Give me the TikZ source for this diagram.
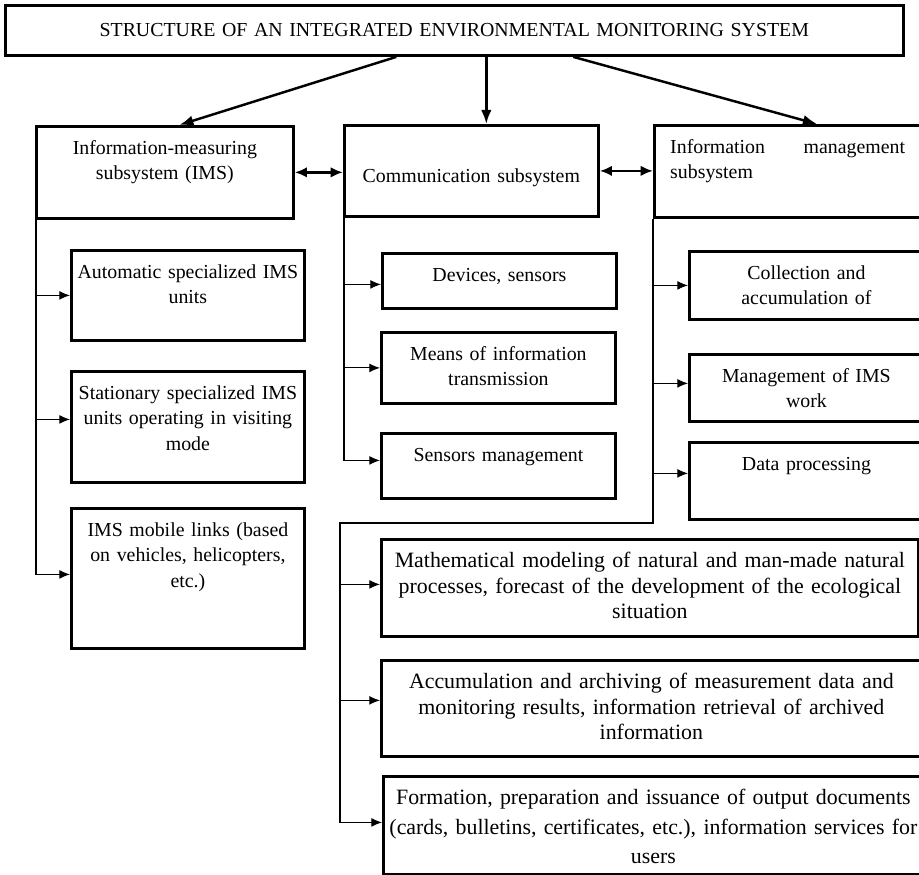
\documentclass[tikz,border=0pt]{standalone}
\usepackage{fontspec}
\setmainfont{Liberation Serif}
\usetikzlibrary{arrows.meta,positioning}
\begin{document}
\begin{tikzpicture}[
    x=0.02cm, y=-0.02cm,
    box/.style={rectangle, draw, line width=1.6pt, anchor=north west, inner sep=5pt, align=center, font=\fontsize{11.3}{14.5}\selectfont},
    tbox/.style 2 args={box, inner xsep=0pt, text width=#1, text height=11pt, text depth=#2},
    bigtext/.style={font=\fontsize{12.45}{14.5}\selectfont},
    arr/.style={-{Latex[length=8pt,width=6pt]}, line width=1.4pt},
    darr/.style={{Latex[length=7pt,width=6pt]}-{Latex[length=7pt,width=6pt]}, line width=1.4pt},
    branch/.style={-{Latex[length=6pt,width=5pt]}, line width=0.6pt}
]
\useasboundingbox (0,0) rectangle (919,875);
\clip (0,0) rectangle (919,875);

% top level
\node[box, text width=501pt, minimum height=28.5pt] (title) at (4,4) {STRUCTURE OF AN INTEGRATED ENVIRONMENTAL MONITORING SYSTEM};

% subsystems
\node[tbox={146.2pt}{31.3pt}] (ims) at (35,125) {Information-measuring\\subsystem (IMS)};
\node[tbox={144.5pt}{14.4pt}, text height=27.4pt] (comm) at (343,124) {Communication subsystem};
\node[tbox={139.6pt}{31.3pt}, inner xsep=9pt, align=left] (info) at (653,124) {Information\hspace{22pt}management\\subsystem};

% IMS units
\node[tbox={132.6pt}{30.2pt}] (auto) at (70,249) {Automatic specialized IMS\\units};
\node[tbox={132.6pt}{42.2pt}] (stat) at (70,370) {Stationary specialized IMS\\units operating in visiting\\mode};
\node[tbox={132.6pt}{58.7pt}] (mob) at (70,507) {IMS mobile links (based\\on vehicles, helicopters,\\etc.)};

% communication parts
\node[tbox={133.2pt}{10.3pt}] (dev) at (381,252) {Devices, sensors};
\node[tbox={133.2pt}{19.4pt}] (means) at (380,331) {Means of information\\transmission};
\node[tbox={133.2pt}{16.0pt}] (sens) at (380,432) {Sensors management};

% management tasks
\node[tbox={133.2pt}{17.7pt}] (coll) at (688,250) {Collection and\\accumulation of};
\node[tbox={133.2pt}{17.1pt}] (mgmt) at (688,353) {Management of IMS\\work};
\node[tbox={133.2pt}{22.8pt}] (proc) at (688,441) {Data processing};
\node[tbox={305.6pt}{34.2pt}, bigtext] (model) at (380,538) {Mathematical modeling of natural and man-made natural\\processes, forecast of the development of the ecological\\situation};
\node[tbox={307.3pt}{33.6pt}, bigtext] (arch) at (380,659) {Accumulation and archiving of measurement data and\\monitoring results, information retrieval of archived\\information};
\node[tbox={307.3pt}{34.8pt}, font=\fontsize{12.45}{16.8}\selectfont] (docs) at (382,775) {Formation, preparation and issuance of output documents\\(cards, bulletins, certificates, etc.), information services for\\users};

% top arrows
\draw[arr] ([xshift=-1.16cm]title.south) -- ([xshift=0.29cm]ims.north);
\draw[arr] ([xshift=0.64cm]title.south) -- ([xshift=0.64cm]title.south |- comm.north);
\draw[arr] ([xshift=2.38cm]title.south) -- ([xshift=3.28cm]info.north west);
\draw[darr] (ims.east) -- (ims.east -| comm.west);
\draw[darr] (comm.east) -- (comm.east -| info.west);

% IMS branches
\coordinate (imsbus) at ([xshift=0.02cm]ims.south west);
\draw[branch] (imsbus) |- ([yshift=0.08cm]mob.west);
\draw[branch] (auto.west -| imsbus) -- (auto.west);
\draw[branch] ([yshift=0.15cm]stat.west -| imsbus) -- ([yshift=0.15cm]stat.west);

% communication branches
\coordinate (commbus) at ([xshift=0.02cm]comm.south west);
\draw[branch] (commbus) |- ([yshift=0.11cm]sens.west);
\draw[branch] ([yshift=-0.07cm]dev.west -| commbus) -- ([yshift=-0.07cm]dev.west);
\draw[branch] (means.west -| commbus) -- (means.west);

% management branches
\coordinate (infobus) at (info.south west);
\coordinate (bend) at (340,523);
\draw[branch] (infobus) |- (bend) |- ([yshift=0.06cm]docs.west);
\draw[branch] (coll.west -| infobus) -- (coll.west);
\draw[branch] ([yshift=0.09cm]mgmt.west -| infobus) -- ([yshift=0.09cm]mgmt.west);
\draw[branch] ([yshift=0.15cm]proc.west -| infobus) -- ([yshift=0.15cm]proc.west);
\draw[branch] ([yshift=0.07cm]model.west -| bend) -- ([yshift=0.07cm]model.west);
\draw[branch] ([yshift=0.16cm]arch.west -| bend) -- ([yshift=0.16cm]arch.west);
\end{tikzpicture}
\end{document}
